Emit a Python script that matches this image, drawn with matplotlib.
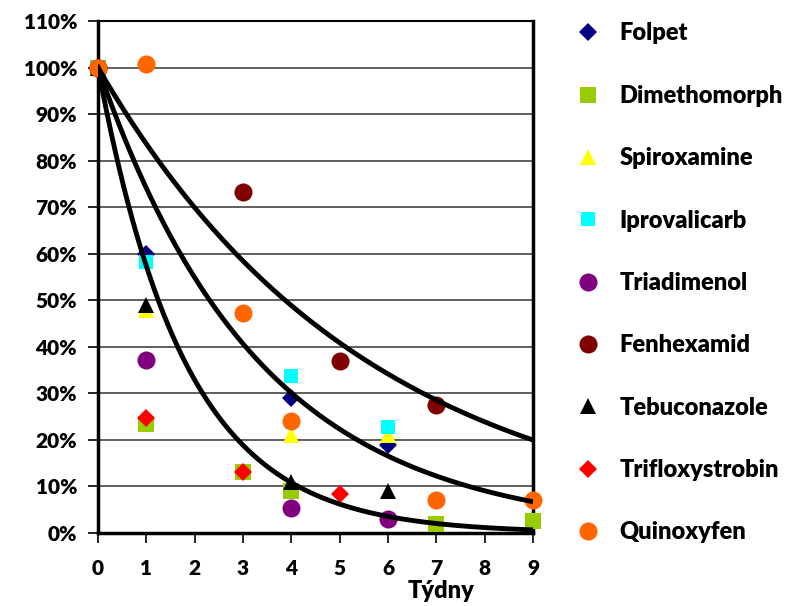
import matplotlib
matplotlib.use('Agg')
import matplotlib.pyplot as plt
import numpy as np

plt.rcParams['font.family'] = ['Lato', 'DejaVu Sans']
plt.rcParams['font.weight'] = 'heavy'

# weeks and residue (% of initial)
folpet_x = [0, 1, 4, 6]
folpet_y = [100, 60, 29, 19]
dimethomorph_x = [0, 1, 3, 4, 7, 9]
dimethomorph_y = [100, 23.5, 13, 9, 2, 2.6]
spiroxamine_x = [0, 1, 4, 6]
spiroxamine_y = [100, 48, 21, 21]
iprovalicarb_x = [0, 1, 4, 6]
iprovalicarb_y = [100, 58.3, 33.8, 22.7]
triadimenol_x = [0, 1, 4, 6]
triadimenol_y = [100, 37.2, 5.4, 3]
fenhexamid_x = [0, 3, 5, 7]
fenhexamid_y = [100, 73.3, 37, 27.5]
tebuconazole_x = [0, 1, 4, 6]
tebuconazole_y = [100, 49, 11, 9]
trifloxystrobin_x = [0, 1, 3, 5]
trifloxystrobin_y = [100, 24.7, 13, 8.4]
quinoxyfen_x = [0, 1, 3, 4, 7, 9]
quinoxyfen_y = [100, 100.7, 47.3, 24.1, 7.1, 7.1]

# exponential trend lines (rate constants per week)
trend_rates = [0.179, 0.30, 0.556]

series = [
    ('Folpet', folpet_x, folpet_y, 'D', '#000080', 9),
    ('Dimethomorph', dimethomorph_x, dimethomorph_y, 's', '#99cc00', 12),
    ('Spiroxamine', spiroxamine_x, spiroxamine_y, '^', '#ffff00', 12),
    ('Iprovalicarb', iprovalicarb_x, iprovalicarb_y, 's', '#00ffff', 10),
    ('Triadimenol', triadimenol_x, triadimenol_y, 'o', '#800080', 13),
    ('Fenhexamid', fenhexamid_x, fenhexamid_y, 'o', '#800000', 13),
    ('Tebuconazole', tebuconazole_x, tebuconazole_y, '^', '#000000', 12),
    ('Trifloxystrobin', trifloxystrobin_x, trifloxystrobin_y, 'D', '#ff0000', 9),
    ('Quinoxyfen', quinoxyfen_x, quinoxyfen_y, 'o', '#ff6600', 13),
]

fig = plt.figure(figsize=(7.9, 6.06), dpi=100)
ax = fig.add_axes([98 / 790, 1 - 533 / 606, 435 / 790, 512 / 606])

for name, xs, ys, m, c, s in series:
    ax.plot(np.array(xs), np.array(ys) / 100, linestyle='none', marker=m,
            color=c, markersize=s, markeredgewidth=0, label=name, zorder=3,
            clip_on=False)

t = np.linspace(0, 9, 200)
for k in trend_rates:
    ax.plot(t, np.exp(-k * t), color='black', linewidth=3.5, zorder=4)

ax.set_xlim(0, 9)
ax.set_ylim(0, 1.1)
ax.set_xticks(range(10))
ax.set_yticks(np.arange(0, 1.11, 0.1))
ax.set_yticklabels([f'{int(round(v * 100))}%' for v in np.arange(0, 1.11, 0.1)])
ax.grid(axis='y', color='#444444', linewidth=1.2)
ax.set_axisbelow(True)
for sp in ['left', 'bottom']:
    ax.spines[sp].set_linewidth(2.5)
ax.spines['right'].set_linewidth(2.5)
ax.spines['top'].set_linewidth(1.5)
ax.tick_params(axis='y', direction='out', length=7, width=1.2,
               labelsize=15, pad=8)
ax.tick_params(axis='x', direction='out', length=7, width=1.2,
               labelsize=15, pad=12)
for lab in ax.get_xticklabels() + ax.get_yticklabels():
    lab.set_fontweight('heavy')

ax.set_xlabel('Týdny', fontsize=17, fontweight='heavy', labelpad=0)
ax.xaxis.set_label_coords((441 - 98) / 435, -0.092)

leg = fig.legend(loc='upper left', bbox_to_anchor=(567 / 790, 1 - 13 / 606),
                 borderaxespad=0, frameon=False, fontsize=17,
                 labelspacing=1.71, handlelength=1.0, handletextpad=0.82,
                 markerscale=1.0)
for txt in leg.get_texts():
    txt.set_fontweight('heavy')

fig.savefig('out.png', dpi=100)
